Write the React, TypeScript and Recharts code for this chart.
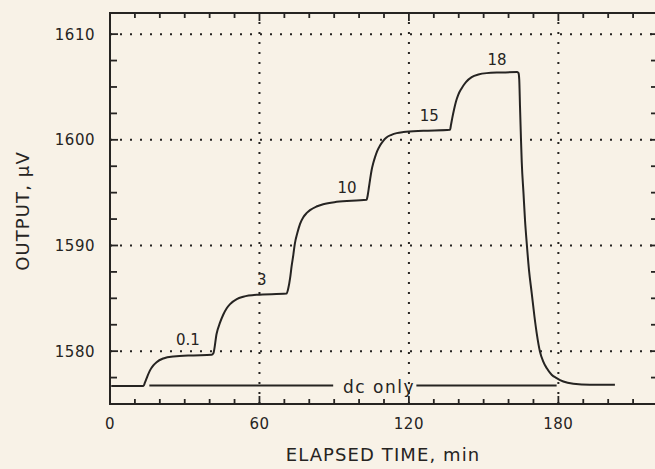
import React from 'react';
import { LineChart, Line, XAxis, YAxis, ReferenceLine, ReferenceArea, ReferenceDot } from 'recharts';

// output trace
const curveTime = [
  0.5, 13.4, 14.05, 15.0, 16.06, 17.4, 18.7, 21.4, 25.4, 33.5,
  40.8, 41.5, 42.8, 44.2, 45.5, 46.8, 48.2, 50.9, 53.5, 58.9,
  70.9, 71.6, 72.3, 72.9, 73.6, 74.2, 75.2, 76.3, 77.6, 78.9,
  80.3, 82.9, 85.6, 91.0, 103.0, 103.5, 104.0, 104.4, 105.0, 105.7,
  106.4, 107.3, 108.4, 109.7, 111.0, 113.0, 115.1, 117.8, 125.8, 136.5,
  136.9, 137.4, 138.1, 138.9, 139.8, 141.2, 142.9, 145.2, 147.9, 151.2,
  156.6, 163.5, 164.0, 164.3, 164.6, 165.0, 165.3, 166.0, 166.6, 167.3,
  168.2, 169.3, 170.4, 171.3, 172.6, 173.9, 175.3, 177.3, 179.3, 182.0,
  186.0, 192.7, 202.7,
];
const curveOutput = [
  1576.7, 1576.7, 1577.04, 1577.61, 1578.18, 1578.65, 1578.96, 1579.31, 1579.5, 1579.6,
  1579.66, 1579.8, 1581.65, 1582.72, 1583.47, 1584.04, 1584.45, 1584.93, 1585.15, 1585.34,
  1585.45, 1585.97, 1586.91, 1588.02, 1589.12, 1590.16, 1591.17, 1592.05, 1592.68, 1593.06,
  1593.35, 1593.69, 1593.91, 1594.13, 1594.32, 1594.8, 1595.58, 1596.22, 1597.1, 1597.8,
  1598.36, 1598.96, 1599.46, 1599.91, 1600.22, 1600.47, 1600.63, 1600.73, 1600.85, 1600.95,
  1601.42, 1602.05, 1602.84, 1603.63, 1604.26, 1604.89, 1605.46, 1605.93, 1606.18, 1606.31,
  1606.37, 1606.41, 1606.31, 1605.68, 1603.15, 1600.0, 1597.9, 1594.95, 1592.43, 1590.22,
  1587.7, 1585.5, 1583.28, 1581.71, 1579.97, 1579.03, 1578.4, 1577.77, 1577.45, 1577.13,
  1576.92, 1576.82, 1576.82,
];

// "dc only" reference line, broken around its label
const dcTime = [15.8, 89.6, null, 123, 179.3];
const dcOutput = [1576.75, 1576.75, null, 1576.75, 1576.75];

const stepLabels = ['0.1', '3', '10', '15', '18'];
const stepLabelTime = [31.3, 60.9, 95.2, 128.2, 155.4];
const stepLabelOutput = [1581.05, 1586.8, 1595.45, 1602.26, 1607.6];

const xTicks = [0, 10, 20, 30, 40, 50, 60, 70, 80, 90, 100, 110, 120, 130, 140, 150, 160, 170, 180, 190, 200, 210];
const xLabelTicks = [0, 60, 120, 180];
const yTicks = [1577.5, 1580, 1582.5, 1585, 1587.5, 1590, 1592.5, 1595, 1597.5, 1600, 1602.5, 1605, 1607.5, 1610];
const yLabelTicks = [1580, 1590, 1600, 1610];
const xGrid = [60, 120, 180];
const yGrid = [1580, 1590, 1600, 1610];

const INK = '#262422';
const BG = '#f8f2e7';
const FONT = '"DejaVu Sans", sans-serif';
const PLOT_W = 548;
const PLOT_H = 391;

const curveData = curveTime.map((t, i) => ({ t, v: curveOutput[i] }));
const dcData = dcTime.map((t, i) => ({ t, v: dcOutput[i] }));

const XTick = (props: any) => {
  const { x, y, payload } = props;
  const major = payload.value % 60 === 0;
  const len = major ? 8 : 5;
  return (
    <g>
      <line x1={x} x2={x} y1={y} y2={y - len} stroke={INK} strokeWidth={1.8} />
      <line x1={x} x2={x} y1={y - PLOT_H} y2={y - PLOT_H + len} stroke={INK} strokeWidth={1.8} />
      {xLabelTicks.includes(payload.value) && (
        <text x={x} y={y + 25} textAnchor="middle" fill={INK} fontSize={15} fontFamily={FONT} letterSpacing={0.5}>
          {payload.value}
        </text>
      )}
    </g>
  );
};

const YTick = (props: any) => {
  const { x, y, payload } = props;
  const major = yLabelTicks.includes(payload.value);
  const len = major ? 8 : 7;
  return (
    <g>
      <line x1={x} x2={x + len} y1={y} y2={y} stroke={INK} strokeWidth={1.8} />
      <line x1={x + PLOT_W} x2={x + PLOT_W - len} y1={y} y2={y} stroke={INK} strokeWidth={1.8} />
      {major && (
        <text x={x - 15} y={y} dy="0.36em" textAnchor="end" fill={INK} fontSize={15} fontFamily={FONT} letterSpacing={0.5}>
          {payload.value}
        </text>
      )}
    </g>
  );
};

const App = () => {
  return (
    <div style={{ position: 'absolute', left: 0, top: 0, width: 655, height: 469, overflow: 'hidden', background: BG }}>
      <LineChart width={660} height={469} margin={{ top: 13, right: 2, bottom: 35, left: 0 }}>
        <XAxis
          dataKey="t"
          type="number"
          domain={[0, 220]}
          ticks={xTicks}
          interval={0}
          height={30}
          tick={<XTick />}
          tickLine={false}
          tickSize={0}
          tickMargin={0}
          axisLine={false}
          allowDataOverflow
        />
        <YAxis
          type="number"
          domain={[1575, 1612]}
          ticks={yTicks}
          interval={0}
          width={110}
          tick={<YTick />}
          tickLine={false}
          tickSize={0}
          tickMargin={0}
          axisLine={false}
          allowDataOverflow
        />
        {yGrid.map((v) => (
          <ReferenceLine key={`h-${v}`} y={v} stroke={INK} strokeWidth={2} strokeDasharray="2 8" />
        ))}
        {xGrid.map((t) => (
          <ReferenceLine key={`v-${t}`} x={t} stroke={INK} strokeWidth={2} strokeDasharray="2 8" />
        ))}
        <ReferenceArea x1={0} x2={220} y1={1575} y2={1612} fill="none" stroke={INK} strokeWidth={2} ifOverflow="visible" />
        <Line data={dcData} dataKey="v" stroke={INK} strokeWidth={2} dot={false} activeDot={false} connectNulls={false} isAnimationActive={false} />
        <Line data={curveData} dataKey="v" type="monotone" stroke={INK} strokeWidth={2} dot={false} activeDot={false} isAnimationActive={false} />
        {stepLabels.map((s, i) => (
          <ReferenceDot
            key={s}
            x={stepLabelTime[i]}
            y={stepLabelOutput[i]}
            r={0}
            fill="none"
            stroke="none"
            label={{ value: s, position: 'center', fill: INK, fontSize: 15, fontFamily: FONT }}
          />
        ))}
        <ReferenceDot
          x={108}
          y={1576.6}
          r={0}
          fill="none"
          stroke="none"
          label={{ value: 'dc only', position: 'center', fill: INK, fontSize: 17, fontFamily: FONT, letterSpacing: 1.5 }}
        />
      </LineChart>
      <svg width={655} height={469} style={{ position: 'absolute', left: 0, top: 0, pointerEvents: 'none' }}>
        <text x={383} y={461} textAnchor="middle" fill={INK} fontSize={18} fontFamily={FONT} letterSpacing={1.1}>
          ELAPSED TIME, min
        </text>
        <text x={28.5} y={211} transform="rotate(-90, 28.5, 211)" textAnchor="middle" fill={INK} fontSize={18} fontFamily={FONT} letterSpacing={1.1}>
          OUTPUT, µV
        </text>
      </svg>
    </div>
  );
};

export default App;
